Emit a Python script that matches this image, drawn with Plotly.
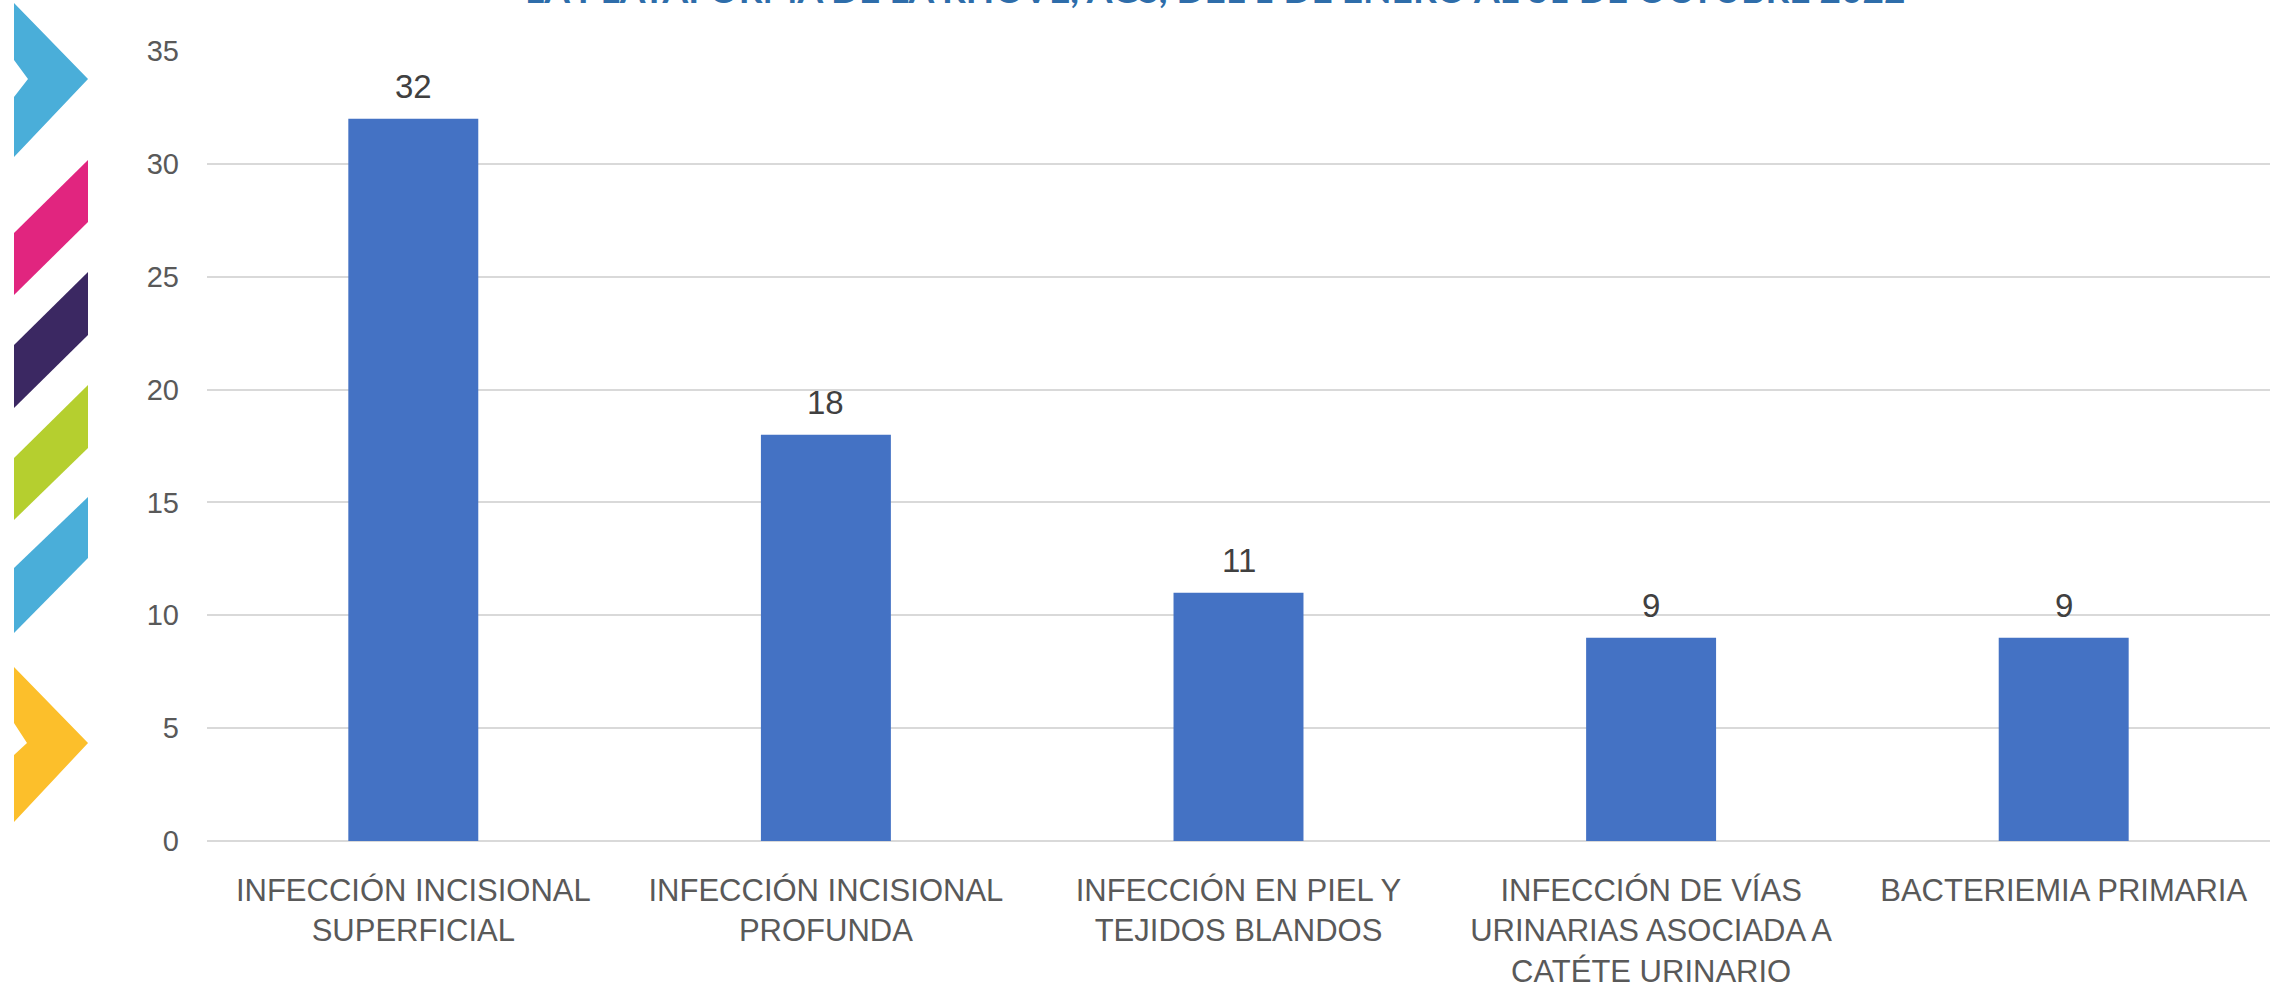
import plotly.graph_objects as go

categories = [
    "INFECCIÓN INCISIONAL<br>SUPERFICIAL",
    "INFECCIÓN INCISIONAL<br>PROFUNDA",
    "INFECCIÓN EN PIEL Y<br>TEJIDOS BLANDOS",
    "INFECCIÓN DE VÍAS<br>URINARIAS ASOCIADA A<br>CATÉTE URINARIO",
    "BACTERIEMIA PRIMARIA",
]
values = [32, 18, 11, 9, 9]
y_ticks = [0, 5, 10, 15, 20, 25, 30, 35]
title_text = "LA PLATAFORMA DE LA RHOVE, AGS, DEL 1 DE ENERO AL 31 DE OCTUBRE 2022"

W, H = 2278, 996
L, R, T, B = 207, 2270, 51, 841

def px(x):
    return (x - L) / (R - L)

def py(y):
    return (B - y) / (B - T)

def poly(points):
    return "M " + " L ".join(f"{px(a):.5f},{py(b):.5f}" for a, b in points) + " Z"

deco = [
    ([(14, 3), (88, 79), (14, 157), (14, 97), (28, 79), (14, 60)], "#4AAED9"),
    ([(14, 233), (88, 160), (88, 222), (14, 295)], "#E1257F"),
    ([(14, 345), (88, 272), (88, 335), (14, 408)], "#3B2862"),
    ([(14, 458), (88, 385), (88, 448), (14, 520)], "#B5CF2F"),
    ([(14, 568), (88, 497), (88, 558), (14, 633)], "#4AAED9"),
    ([(14, 667), (88, 743), (14, 822), (14, 755), (27, 743), (14, 723)], "#FCBF2B"),
]

fig = go.Figure()
fig.add_trace(go.Bar(
    x=categories, y=values, marker=dict(color="#4472C4", line=dict(width=0)),
    showlegend=False, hoverinfo="skip",
))

for c, v in zip(categories, values):
    fig.add_annotation(x=c, y=v, text=str(v), showarrow=False, yanchor="bottom",
                       yshift=12, font=dict(family="Liberation Sans, Arial", size=33, color="#404040"))

shapes = []
for pts, col in deco:
    shapes.append(dict(type="path", xref="paper", yref="paper", path=poly(pts),
                       fillcolor=col, line=dict(width=0), layer="above"))

fig.add_annotation(xref="paper", yref="paper", x=px(1215), y=py(13), yanchor="bottom",
                   xanchor="center", showarrow=False, text="<b>" + title_text + "</b>",
                   font=dict(family="Lato, Liberation Sans", size=37, color="#2E6DAA"))

fig.update_layout(
    width=W, height=H,
    margin=dict(l=L, r=W - R, t=T, b=H - B, autoexpand=False),
    paper_bgcolor="white", plot_bgcolor="white",
    bargap=0.685,
    shapes=shapes,
    xaxis=dict(
        tickfont=dict(family="Liberation Sans Narrow, Arial Narrow, Liberation Sans", size=31, color="#595959"),
        showgrid=False, showline=False, ticks="", ticklabelstandoff=28,
        tickangle=0,
    ),
    yaxis=dict(
        range=[0, 35], tickvals=y_ticks, showgrid=True, gridcolor="#D9D9D9", gridwidth=1.5,
        zeroline=True, zerolinecolor="#D9D9D9", zerolinewidth=2, showline=False, ticks="",
        tickfont=dict(family="Liberation Sans, Arial", size=29, color="#595959"),
        ticklabelstandoff=27,
    ),
)

fig.write_html("out.html", config={"displayModeBar": False},
               post_script="document.body.style.margin='0';document.body.style.overflow='hidden';")
